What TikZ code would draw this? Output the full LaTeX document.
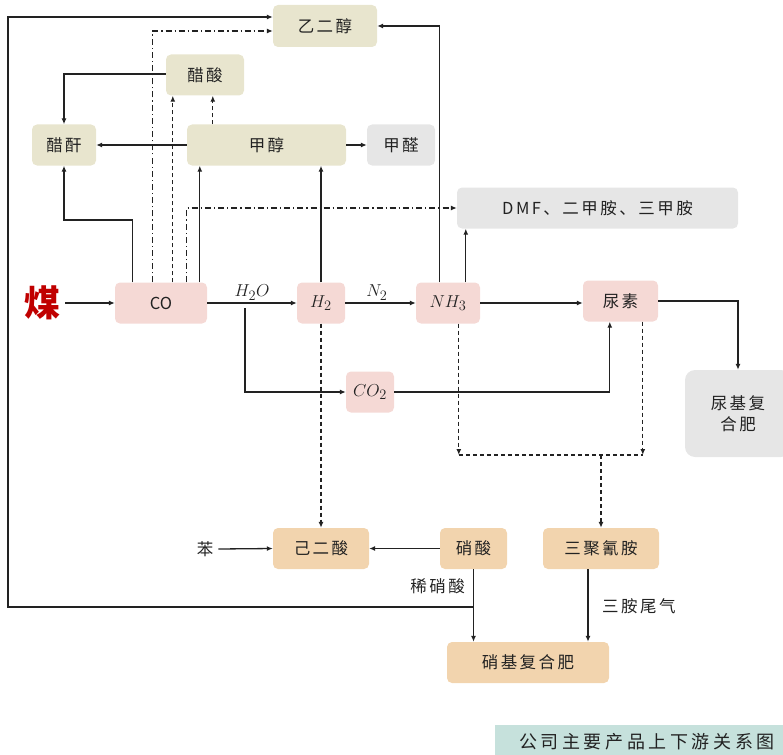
\documentclass[tikz,border=0pt]{standalone}
\usepackage{fontspec}
\setmainfont{Noto Sans CJK SC}
\newfontfamily\spc[LetterSpace=15]{Noto Sans CJK SC}
\newfontfamily\spcw[LetterSpace=20]{Noto Sans CJK SC}
\usetikzlibrary{arrows.meta,calc}
\definecolor{beige}{HTML}{E8E5CE}
\definecolor{pinkb}{HTML}{F5D9D5}
\definecolor{greyb}{HTML}{E6E6E6}
\definecolor{orangeb}{HTML}{F2D4AE}
\definecolor{tealb}{HTML}{C6E1DC}
\definecolor{meired}{HTML}{C00000}
\definecolor{ink}{HTML}{222222}
\begin{document}
\begin{tikzpicture}[x=1pt,y=-1pt,
  box/.style={rounded corners=5pt,inner sep=0pt,align=center,text=ink,font=\spc\fontsize{16.5}{21}\selectfont},
  bg/.style={box,fill=beige},
  pk/.style={box,fill=pinkb},
  gy/.style={box,fill=greyb},
  og/.style={box,fill=orangeb},
  mth/.style={font=\fontsize{19}{21}\selectfont},
  lbl/.style={inner sep=1pt,text=ink,font=\spc\fontsize{16.5}{20}\selectfont},
  conn/.style={line width=1.3pt,draw=ink},
  arr/.style={conn,-{Latex[length=6pt,width=5pt]}},
  dsh/.style={dash pattern=on 4pt off 3pt},
  dsd/.style={dash pattern=on 6pt off 3pt on 1.2pt off 3pt}]
\useasboundingbox (0,0) rectangle (783,754);
% nodes
\node[bg,minimum width=104pt,minimum height=42pt] (eg) at (325,26) {乙二醇};
\node[bg,minimum width=78pt,minimum height=41pt] (cs) at (205,75) {醋酸};
\node[bg,minimum width=64pt,minimum height=41pt] (cg) at (64,145) {醋酐};
\node[bg,minimum width=159pt,minimum height=41pt] (jc) at (266.5,145) {甲醇};
\node[gy,minimum width=68pt,minimum height=41pt] (jq) at (401,145) {甲醛};
\node[gy,minimum width=281pt,minimum height=41pt] (dmf) at (597.5,208) {DMF、二甲胺、三甲胺};
\node[inner sep=1pt,text=meired,font=\fontsize{36}{38}\selectfont\bfseries] (mei) at (42,303) {煤};
\node[pk,minimum width=92pt,minimum height=41pt,font=\fontsize{16.5}{21}\selectfont] (co) at (161,303) {CO};
\node[pk,mth,minimum width=48pt,minimum height=41pt] (h2) at (321,303) {$H_2$};
\node[pk,mth,minimum width=64pt,minimum height=41pt] (nh3) at (448,303) {$NH_3$};
\node[pk,minimum width=75pt,minimum height=41pt] (ns) at (620.5,301) {尿素};
\node[gy,minimum width=106pt,minimum height=87pt,rounded corners=10pt] (nj) at (738,413.5) {尿基复\\合肥};
\node[pk,mth,minimum width=48pt,minimum height=41pt] (co2) at (370,392) {$CO_2$};
\node[og,minimum width=96pt,minimum height=41pt] (ade) at (321,548.5) {己二酸};
\node[lbl] (ben) at (205,549) {苯};
\node[og,minimum width=67pt,minimum height=41pt] (xs) at (473.5,548.5) {硝酸};
\node[og,minimum width=116pt,minimum height=41pt] (sj) at (601,548.5) {三聚氰胺};
\node[og,minimum width=162pt,minimum height=41pt] (xj) at (528,662.5) {硝基复合肥};
\node[fill=tealb,minimum width=300pt,minimum height=34pt,anchor=north west,inner sep=0pt] (tbox) at (495,725) {};
\node[inner sep=0pt,text=ink,font=\spcw\fontsize{18}{20}\selectfont] (title) at (647,742) {公司主要产品上下游关系图};
% helper coordinates
\coordinate (y220) at (0,220);
\coordinate (yjoin) at (0,455);
\coordinate (yloop) at (0,607);
\coordinate (xloop) at (8,0);
\coordinate (h2oa) at (245,308);
% main line
\coordinate (meio) at ($(mei.east)+(4,0)$);
\draw[arr] (meio) -- (co.west);
\draw[arr] (co.east) -- (h2.west) node[pos=0.5,above=-1pt,mth,text=ink] (h2olbl) {$H_2O$};
\draw[arr] (h2.east) -- (nh3.west) node[pos=0.45,above=-1pt,mth,text=ink] (n2lbl) {$N_2$};
\draw[arr] (nh3.east) -- (nh3.east -| ns.west);
\draw[arr] (ns.east) -| (nj.north);
\draw[arr] (h2oa) |- (co2.west);
\coordinate (nsin) at ($(ns.south west)+(27,0)$);
\draw[arr] (co2.east) -| (nsin);
% dashed to adipic and melamine
\draw[arr,dsh] (h2.south) -- (ade.north);
\coordinate (nhd) at ($(nh3.south west)+(43,0)$);
\coordinate (nsd) at ($(ns.south west)+(60,0)$);
\draw[arr,dsh] (nhd) -- (nhd |- yjoin);
\draw[arr,dsh] (nsd) -- (nsd |- yjoin);
\draw[conn,dsh] (nhd |- yjoin) -- (nsd |- yjoin);
\draw[arr,dsh] (sj.north |- yjoin) -- (sj.north);
% bottom
\draw[arr] (xs.west) -- (ade.east);
\coordinate (beno) at ($(ben.east)+(4,0)$);
\draw[arr] (beno) -- (ade.west);
\draw[arr] (xs.south) -- (xs.south |- xj.north);
\node[lbl,anchor=east] (xsl) at (466,586) {稀硝酸};
\coordinate (sjo) at ($(sj.south)+(-13,0)$);
\draw[arr] (sjo) -- (sjo |- xj.north);
\node[lbl,anchor=west] (swl) at (601,606) {三胺尾气};
\coordinate (egin) at ($(eg.west)+(0,-9)$);
\draw[arr] (xs.south |- yloop) -| (xloop |- egin) -- (egin);
% NH3 upward
\coordinate (nhu) at ($(nh3.north west)+(24,0)$);
\draw[arr] (nhu) |- (eg.east);
\coordinate (nhm) at ($(nh3.north west)+(50,0)$);
\draw[arr] (nhm) -- (nhm |- dmf.south);
% CO upward
\coordinate (c1) at ($(co.north west)+(18,0)$);
\coordinate (c2) at ($(co.north west)+(38,0)$);
\coordinate (c3) at ($(co.north west)+(58,0)$);
\coordinate (c4) at ($(co.north west)+(72,0)$);
\coordinate (c5) at ($(co.north west)+(85,0)$);
\draw[arr] (c1) -- (c1 |- y220) -| (cg.south);
\coordinate (egin2) at ($(eg.west)+(0,5)$);
\draw[arr,dsd] (c2) |- (egin2);
\draw[arr,dsh] (c3) -- (c3 |- cs.south);
\draw[arr,dsd] (c4) |- (dmf.west);
\draw[arr] (c5) -- (c5 |- jc.south);
% H2 up
\draw[arr] (h2.north) -- (h2.north |- jc.south);
% methanol
\coordinate (jcu) at ($(jc.north west)+(26,0)$);
\draw[arr,dsh] (jcu) -- (jcu |- cs.south);
\draw[arr] (jc.west) -- (cg.east);
\draw[arr] (jc.east) -- (jq.west);
\draw[arr] ($(cs.west)+(0,-1)$) -| (cg.north);
\end{tikzpicture}
\end{document}
